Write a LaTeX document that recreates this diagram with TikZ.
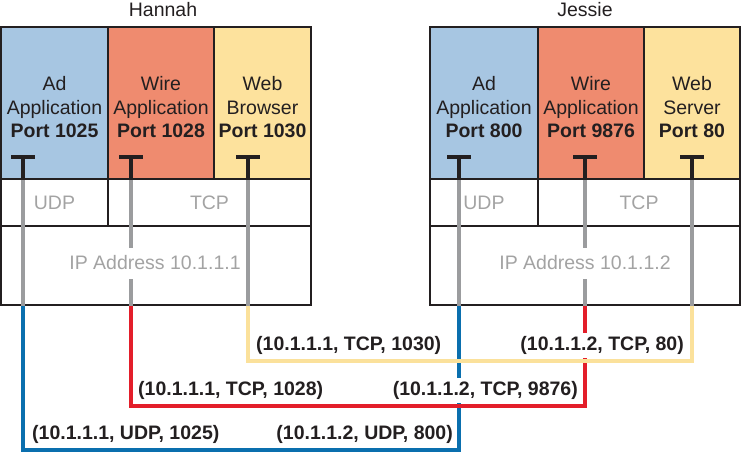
\documentclass[tikz,border=0pt]{standalone}
\usepackage{fontspec}
\setmainfont{Liberation Sans}
\usetikzlibrary{positioning}
\definecolor{adfill}{HTML}{A7C6E2}
\definecolor{wirefill}{HTML}{EF8B6F}
\definecolor{webfill}{HTML}{FDE29D}
\definecolor{udpblue}{HTML}{0A6FAE}
\definecolor{tcpred}{HTML}{E31E2A}
\definecolor{webline}{HTML}{FBE19B}
\definecolor{stackgray}{HTML}{9B9C9E}
\definecolor{laygray}{HTML}{A3A3A3}
\definecolor{boxline}{HTML}{231F20}
\newcommand{\apptext}[3]{\rule{0pt}{23pt}#1\\#2\\\textbf{#3}}
\tikzset{%
	cell/.style     = {draw=boxline, line width=2pt, rectangle, inner sep=0pt,
		align=center, text=boxline, font=\fontsize{19.5}{23.5}\selectfont},
	layer/.style    = {text=laygray, font=\fontsize{19.5}{24}\selectfont}, % UDP, TCP, IP
	host/.style     = {text=boxline, font=\fontsize{19.5}{24}\selectfont}, % Hannah, Jessie
	tbar/.style     = {boxline, line width=4.5pt},
	stack/.style    = {stackgray, line width=4.5pt},
	pair/.style     = {fill=white, inner xsep=2pt, inner ysep=0pt, minimum height=25pt,
		text=boxline, font=\fontsize{19.5}{24}\selectfont\bfseries}
}
\begin{document}
\begin{tikzpicture}[x=1pt,y=-1pt]
			\useasboundingbox (0,0) rectangle (742,453);
			% Hannah
			\node[host, anchor=base] (hname) at (163,16) {Hannah};
			\node[cell, fill=adfill, minimum width=107pt, minimum height=152pt] (had) at (54.5,103) {\apptext{Ad}{Application}{Port 1025}};
			\node[cell, fill=wirefill, minimum width=106pt, minimum height=152pt] (hwire) at (161,103) {\apptext{Wire}{Application}{Port 1028}};
			\node[cell, fill=webfill, minimum width=97pt, minimum height=152pt] (hweb) at (262.5,103) {\apptext{Web}{Browser}{Port 1030}};
			\node[cell, layer, minimum width=107pt, minimum height=47pt] (hudp) at (54.5,202.5) {UDP};
			\node[cell, layer, minimum width=203pt, minimum height=47pt] (htcp) at (209.5,202.5) {TCP};
			\node[cell, minimum width=310pt, minimum height=79pt] (hip) at (156,265.5) {};
			% Jessie
			\node[host, anchor=base] (jname) at (585,16) {Jessie};
			\node[cell, fill=adfill, minimum width=108pt, minimum height=152pt] (jad) at (484,103) {\apptext{Ad}{Application}{Port 800}};
			\node[cell, fill=wirefill, minimum width=106pt, minimum height=152pt] (jwire) at (591,103) {\apptext{Wire}{Application}{Port 9876}};
			\node[cell, fill=webfill, minimum width=96pt, minimum height=152pt] (jweb) at (692,103) {\apptext{Web}{Server}{Port 80}};
			\node[cell, layer, minimum width=108pt, minimum height=47pt] (judp) at (484,202.5) {UDP};
			\node[cell, layer, minimum width=202pt, minimum height=47pt] (jtcp) at (639,202.5) {TCP};
			\node[cell, minimum width=310pt, minimum height=79pt] (jip) at (585,265.5) {};
			
			\coordinate (hA) at (23,157);
			\coordinate (hW) at (131,157);
			\coordinate (hB) at (248,157);
			\coordinate (jA) at (459,157);
			\coordinate (jW) at (585,157);
			\coordinate (jS) at (692,157);
			
			% ports
			\foreach \p/\c in {hA/had, hW/hwire, hB/hweb, jA/jad, jW/jwire, jS/jweb} {
				\draw[tbar] (\p) ++(-12,0) -- ++(24,0);
				\draw[tbar] (\p) -- (\p |- \c.south);
				\draw[stack] (\p |- \c.south) -- (\p |- hip.south);
			}
			
			\node[layer, fill=white, inner sep=1pt, minimum height=31pt] (hipaddr) at (155,263) {IP Address 10.1.1.1};
			\node[layer, fill=white, inner sep=1pt, minimum height=31pt] (jipaddr) at (585,263) {IP Address 10.1.1.2};
			
			% connections
			\draw[udpblue, line width=4pt] (hA |- hip.south) -- ++(0,144) -| (jA |- jip.south);
			\draw[tcpred, line width=4pt] (hW |- hip.south) -- ++(0,100) -| (jW |- jip.south);
			\draw[webline, line width=4pt] (hB |- hip.south) -- ++(0,55) -| (jS |- jip.south);
			
			\node[pair, anchor=west] (hwebpair) at (254,345) {(10.1.1.1, TCP, 1030)};
			\node[pair, anchor=east] (jwebpair) at (686,345) {(10.1.1.2, TCP, 80)};
			\node[pair, anchor=west] (hwirepair) at (136,390) {(10.1.1.1, TCP, 1028)};
			\node[pair, anchor=east] (jwirepair) at (580,390) {(10.1.1.2, TCP, 9876)};
			\node[pair, anchor=west] (hadpair) at (30,434) {(10.1.1.1, UDP, 1025)};
			\node[pair, anchor=east] (jadpair) at (455,434) {(10.1.1.2, UDP, 800)};
		\end{tikzpicture}
\end{document}
